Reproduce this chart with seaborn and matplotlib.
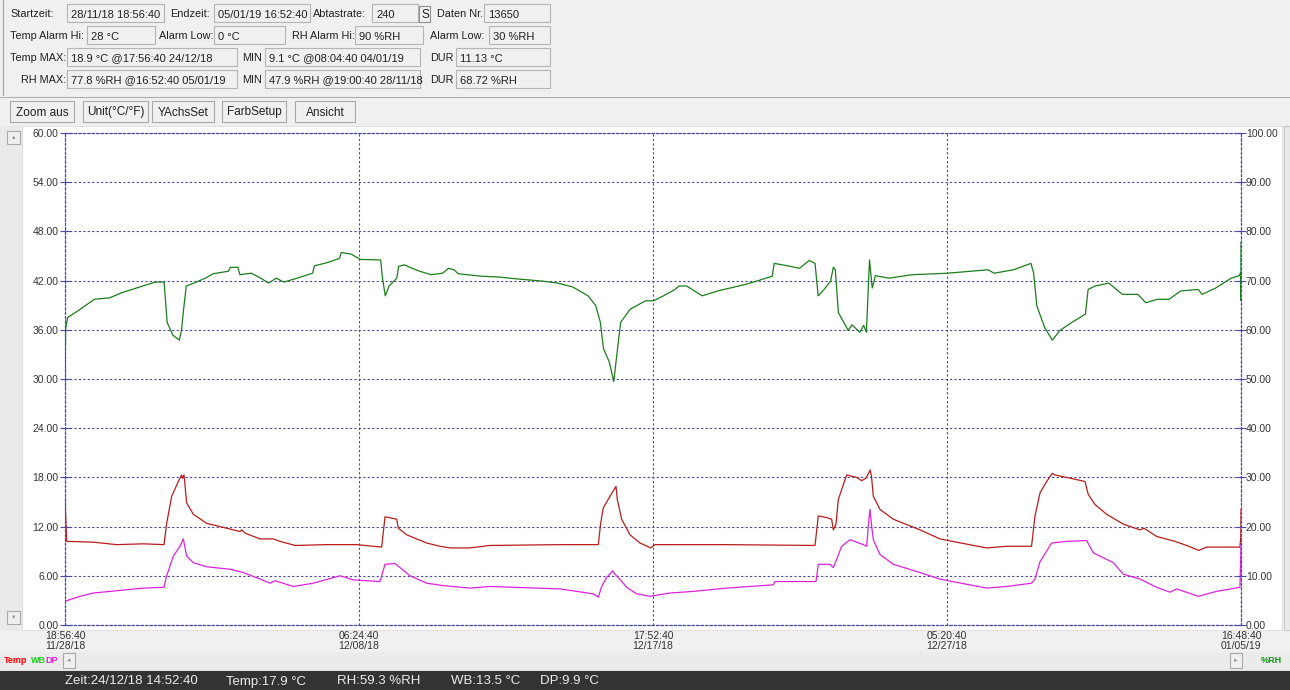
import matplotlib
matplotlib.use("Agg")
import matplotlib.pyplot as plt
from matplotlib.patches import Rectangle
import pandas as pd
import seaborn as sns

# --- data (days after start, value) ---
start = pd.Timestamp("2018-11-28 18:56:40")
x_end = pd.Timestamp("2019-01-05 16:48:40")

rh_days = [0.0, 0.02, 0.086, 0.332, 0.949, 1.443, 1.813, 2.553, 2.923, 3.195, 3.293, 3.478,
           3.688, 3.762, 3.812, 3.910, 4.157, 4.527, 4.774, 5.267, 5.329, 5.576, 5.637, 6.008,
           6.254, 6.563, 6.810, 7.056, 7.488, 7.981, 8.043, 8.475, 8.845, 8.907, 9.215, 9.524,
           10.177, 10.227, 10.325, 10.449, 10.696, 10.757, 10.942, 11.189, 11.436, 11.806,
           12.176, 12.361, 12.546, 12.669, 13.410, 14.026, 14.643, 15.383, 15.877, 16.370,
           16.864, 17.111, 17.259, 17.358, 17.543, 17.691, 17.789, 17.913, 18.221, 18.715,
           18.975, 19.289, 19.665, 19.790, 20.041, 20.542, 21.044, 21.922, 22.298, 22.800,
           22.863, 23.302, 23.678, 23.991, 24.179, 24.280, 24.430, 24.681, 24.769, 24.832,
           24.932, 25.245, 25.371, 25.622, 25.747, 25.835, 25.935, 26.023, 26.123, 26.562,
           27.315, 28.444, 29.760, 29.948, 30.575, 31.140, 31.227, 31.328, 31.579, 31.829,
           32.080, 32.457, 32.896, 32.983, 33.209, 33.648, 34.087, 34.588, 34.839, 35.215,
           35.592, 35.968, 36.532, 36.657, 37.096, 37.598, 37.849, 37.895, 37.905, 37.911]
rh_vals = [47.9, 60.2, 62.5, 63.5, 66.2, 66.5, 67.5, 69.0, 69.7, 69.7, 61.5, 58.9,
           57.9, 60.2, 63.5, 68.9, 69.5, 70.5, 71.4, 71.9, 72.7, 72.7, 71.2, 71.5,
           70.7, 69.5, 70.5, 69.7, 70.5, 71.5, 73.0, 73.7, 74.5, 75.7, 75.4, 74.3,
           74.2, 70.9, 66.9, 68.9, 70.5, 72.9, 73.2, 72.5, 71.9, 71.2,
           71.5, 72.5, 72.2, 71.4, 70.9, 70.7, 70.3, 69.9, 69.5, 68.7,
           66.9, 64.9, 61.5, 56.2, 53.5, 49.5, 54.9, 61.5, 64.2, 65.9,
           65.9, 66.9, 68.2, 68.9, 68.9, 66.9, 67.9, 69.2, 69.9, 70.9,
           73.5, 73.0, 72.5, 74.1, 73.5, 66.9, 67.9, 69.9, 72.7, 72.2,
           63.5, 59.9, 61.0, 59.5, 60.9, 59.5, 74.2, 68.5, 71.0, 70.5,
           71.2, 71.5, 72.2, 71.5, 72.2, 73.5, 71.5, 64.9, 60.5, 57.9,
           59.9, 61.5, 63.2, 68.2, 68.9, 69.5, 67.2, 67.2, 65.5, 66.2,
           66.2, 67.9, 68.2, 67.2, 68.5, 70.5, 71.0, 71.5, 66.0, 77.8]

temp_days = [0.0, 0.054, 0.914, 1.666, 2.526, 3.192, 3.278, 3.439, 3.654, 3.761, 3.794, 3.837,
             3.922, 4.137, 4.567, 5.212, 5.642, 5.696, 5.803, 6.287, 6.716, 6.931, 7.415, 8.436,
             9.403, 10.209, 10.316, 10.693, 10.746, 11.015, 11.660, 12.089, 12.412, 13.056,
             13.701, 15.957, 17.193, 17.268, 17.354, 17.569, 17.762, 17.805, 17.945, 18.214,
             18.536, 18.880, 19.020, 21.330, 24.178, 24.285, 24.554, 24.715, 24.769, 24.855,
             24.930, 25.199, 25.521, 25.682, 25.822, 25.958, 26.000, 26.058, 26.273, 26.703,
             27.563, 28.207, 28.744, 29.711, 30.356, 31.159, 31.270, 31.431, 31.646, 31.828,
             31.914, 32.291, 32.882, 32.989, 33.204, 33.580, 34.117, 34.655, 34.784, 35.192,
             35.783, 36.159, 36.547, 36.804, 37.878, 37.905, 37.911]
temp_vals = [15.5, 10.2, 10.1, 9.8, 9.9, 9.8, 12.4, 15.7, 17.5, 18.3, 17.9, 18.3,
             14.9, 13.5, 12.4, 11.8, 11.4, 11.6, 11.2, 10.5, 10.5, 10.2, 9.7, 9.8,
             9.8, 9.5, 13.2, 12.9, 11.8, 11.0, 10.0, 9.6, 9.4, 9.4,
             9.7, 9.8, 9.8, 12.4, 14.3, 15.7, 16.9, 15.3, 12.9, 11.0,
             10.0, 9.4, 9.8, 9.8, 9.7, 13.3, 13.1, 12.9, 11.6, 12.3,
             15.3, 18.3, 18.0, 17.6, 17.9, 18.9, 18.1, 15.7, 14.1, 12.9,
             11.6, 10.5, 10.1, 9.4, 9.6, 9.6, 13.3, 16.1, 17.5, 18.5,
             18.3, 18.0, 17.5, 15.9, 14.7, 13.5, 12.3, 11.6, 11.8, 10.8,
             10.2, 9.7, 9.1, 9.5, 9.5, 10.8, 14.1]

dp_days = [0.0, 0.484, 0.914, 1.988, 2.526, 3.192, 3.278, 3.493, 3.708, 3.815, 3.922, 4.137,
           4.567, 5.320, 5.749, 6.287, 6.609, 6.770, 7.361, 8.006, 8.866, 9.296, 10.155,
           10.316, 10.639, 11.122, 11.660, 12.197, 13.056, 13.701, 15.957, 17.032, 17.193,
           17.300, 17.461, 17.655, 17.730, 17.838, 18.106, 18.429, 18.859, 19.503, 20.255,
           21.330, 22.834, 22.888, 23.909, 24.210, 24.285, 24.661, 24.769, 24.876, 25.038,
           25.306, 25.736, 25.843, 25.897, 25.951, 26.004, 26.058, 26.273, 26.703, 27.563,
           28.207, 29.711, 30.356, 31.159, 31.270, 31.431, 31.807, 32.291, 32.935, 33.150,
           33.795, 34.117, 34.655, 35.192, 35.622, 35.837, 36.535, 37.126, 37.878, 37.911]
dp_vals = [2.9, 3.5, 3.9, 4.3, 4.5, 4.6, 6.0, 8.4, 9.6, 10.5, 8.4, 7.6,
           7.1, 6.8, 6.4, 5.6, 5.1, 5.4, 4.7, 5.1, 6.0, 5.5, 5.3,
           7.4, 7.5, 6.0, 5.1, 4.8, 4.5, 4.7, 4.4, 3.8, 3.4,
           4.7, 5.8, 6.6, 6.2, 5.8, 4.6, 3.8, 3.5, 3.9, 4.1,
           4.5, 4.9, 5.3, 5.3, 5.3, 7.4, 7.4, 7.0, 8.0, 9.6,
           10.4, 9.8, 9.6, 12.1, 14.1, 12.1, 10.4, 8.6, 7.4, 6.4,
           5.6, 4.5, 4.7, 5.1, 5.6, 7.7, 10.0, 10.2, 10.3, 8.8,
           7.6, 6.2, 5.6, 4.6, 4.0, 4.4, 3.5, 4.1, 4.6, 9.8]

left_ticks = [0, 6, 12, 18, 24, 30, 36, 42, 48, 54, 60]
right_ticks = [0, 10, 20, 30, 40, 50, 60, 70, 80, 90, 100]


def to_frame(days, vals):
    return pd.DataFrame({"time": start + pd.to_timedelta(days, unit="D"), "value": vals})


rh = to_frame(rh_days, rh_vals)
temp = to_frame(temp_days, temp_vals)
dp = to_frame(dp_days, dp_vals)

sns.set_style("white")
plt.rcParams["font.family"] = ["Liberation Sans", "DejaVu Sans"]

W, H = 1290, 690
fig = plt.figure(figsize=(W / 100, H / 100), dpi=100, facecolor="#f0f0f0")

# background "window" drawn in pixel coordinates
bg = fig.add_axes([0, 0, 1, 1])
bg.set_xlim(0, W)
bg.set_ylim(H, 0)
bg.axis("off")


def box(x, y, w, h, fc="#f0f0f0", ec="#b4b4b4", lw=0.8):
    bg.add_patch(Rectangle((x, y), w, h, fc=fc, ec=ec, lw=lw))


def txt(x, y, s, **kw):
    kw.setdefault("fontsize", 8)
    kw.setdefault("color", "#202020")
    bg.text(x, y, s, va="center", **kw)


# info panel
bg.plot([3, 3], [0, 95], color="#a0a0a0", lw=0.8)
bg.plot([0, W], [97, 97], color="#b0b0b0", lw=0.8)
labels = [("Startzeit:", 10, 14), ("Endzeit:", 170, 14), ("Abtastrate:", 313, 14), ("Daten Nr.", 437, 14),
          ("Temp Alarm Hi:", 10, 36), ("Alarm Low:", 159, 36), ("RH Alarm Hi:", 292, 36), ("Alarm Low:", 430, 36),
          ("Temp MAX:", 10, 58), ("MIN", 242, 58), ("DUR", 430, 58),
          ("RH MAX:", 21, 80), ("MIN", 242, 80), ("DUR", 430, 80)]
for s, x, y in labels:
    txt(x, y, s, fontsize=7.8)
fields = [(67, 4, 97, "28/11/18 18:56:40"), (214, 4, 96, "05/01/19 16:52:40"), (372, 4, 46, "240"),
          (484, 4, 66, "13650"),
          (87, 26, 68, "28 °C"), (214, 26, 71, "0 °C"), (355, 26, 68, "90 %RH"), (489, 26, 61, "30 %RH"),
          (67, 48, 170, "18.9 °C @17:56:40 24/12/18"), (265, 48, 155, "9.1 °C @08:04:40 04/01/19"),
          (456, 48, 94, "11.13 °C"),
          (67, 70, 170, "77.8 %RH @16:52:40 05/01/19"), (265, 70, 155, "47.9 %RH @19:00:40 28/11/18"),
          (456, 70, 94, "68.72 %RH")]
for x, y, w, s in fields:
    box(x, y, w, 18)
    txt(x + 4, y + 10.5, s)
box(419, 6, 11, 16, ec="#909090")
txt(421, 15, "S", fontsize=8.5)

# toolbar buttons
for x, w, s in [(10, 64, "Zoom aus"), (83, 65, "Unit(°C/°F)"), (152, 62, "YAchsSet"),
                (222, 64, "FarbSetup"), (295, 60, "Ansicht")]:
    box(x, 101, w, 21, ec="#a8a8a8")
    bg.text(x + w / 2, 112.5, s, ha="center", va="center", fontsize=8.5, color="#202020")

# chart frame
box(0, 126, 22, 504, fc="#eaeaea", ec="#eaeaea")
box(22, 126, 1260, 504, fc="white", ec="#e0e0e0")
box(7, 131, 13, 13, ec="#a8a8a8")
bg.text(13.5, 137.5, "▲", ha="center", va="center", fontsize=4, color="#909090")
box(7, 611, 13, 13, ec="#a8a8a8")
bg.text(13.5, 617.5, "▼", ha="center", va="center", fontsize=4, color="#909090")
box(1284, 126, 6, 504, fc="#eaeaea", ec="#c8c8c8")

# bottom strip and status bar
box(0, 652, W, 18, fc="#ebebeb", ec="#ebebeb")
txt(4, 660.5, "Temp", fontsize=6.5, color="red", weight="bold")
txt(31, 660.5, "WB", fontsize=6.5, color="#22cc22", weight="bold")
txt(45, 660.5, "DP", fontsize=6.5, color="#e020e0", weight="bold")
box(63, 653, 12, 15, ec="#a8a8a8")
bg.text(69, 660.5, "◄", ha="center", va="center", fontsize=4, color="#909090")
box(1230, 653, 12, 15, ec="#a8a8a8")
bg.text(1236, 660.5, "►", ha="center", va="center", fontsize=4, color="#909090")
txt(1261, 660.5, "%RH", fontsize=6.5, color="#119911", weight="bold")
box(0, 671, W, 19, fc="#333333", ec="#333333")
for x, s in [(65, "Zeit:24/12/18 14:52:40"), (226, "Temp:17.9 °C"), (337, "RH:59.3 %RH"),
             (451, "WB:13.5 °C"), (540, "DP:9.9 °C")]:
    txt(x, 681.5, s, fontsize=9.5, color="#ececec")

# --- the chart itself ---
ax = fig.add_axes([65 / W, 65 / H, 1176 / W, 492 / H], facecolor="none")
ax2 = ax.twinx()

sns.lineplot(data=temp, x="time", y="value", ax=ax, color="#b81c1c", lw=0.9, estimator=None, sort=False)
sns.lineplot(data=dp, x="time", y="value", ax=ax, color="#dd22dd", lw=0.9, estimator=None, sort=False)
sns.lineplot(data=rh, x="time", y="value", ax=ax2, color="#1b7d1b", lw=0.9, estimator=None, sort=False)

grid_c = "#4848a8"
dots = (0, (2, 2))
ax.set_xlim(start, x_end)
ax.set_ylim(0, 60)
ax2.set_ylim(0, 100)
xt = pd.date_range(start, x_end, periods=5)
ax.set_xticks(xt)
ax.set_xticklabels([t.strftime("%H:%M:%S\n%m/%d/%y") for t in xt])
ax.set_yticks(left_ticks)
ax.set_yticklabels([f"{v:.2f}" for v in left_ticks])
ax2.set_yticks(right_ticks)
ax2.set_yticklabels([f"{v:.2f}" for v in right_ticks])
for a in (ax, ax2):
    a.set_xlabel("")
    a.set_ylabel("")
    for sp in a.spines.values():
        sp.set_color(grid_c)
        sp.set_linestyle(dots)
        sp.set_linewidth(0.8)
ax.grid(True, color=grid_c, ls=dots, lw=0.8)
ax2.grid(False)
ax.tick_params(axis="both", direction="inout", length=7, width=0.8, color=grid_c,
               labelsize=7.5, labelcolor="#333333", pad=1)
ax.tick_params(axis="x", pad=2, length=5)
ax2.tick_params(axis="y", direction="inout", length=7, width=0.8, color=grid_c,
                labelsize=7.5, labelcolor="#333333", pad=0)
for lbl in ax.get_xticklabels():
    lbl.set_linespacing(0.95)

fig.savefig("out.png", dpi=100, facecolor=fig.get_facecolor())
